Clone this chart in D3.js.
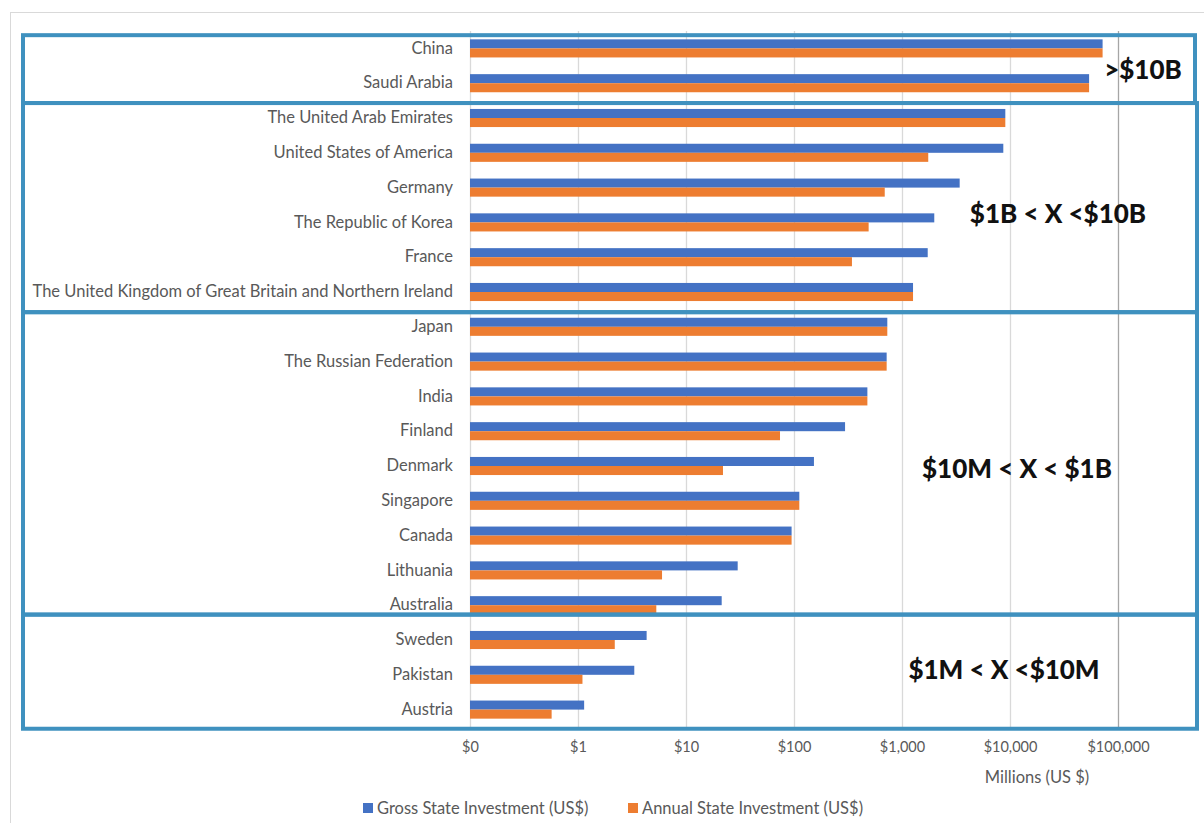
<!DOCTYPE html>
<html>
<head>
<meta charset="utf-8">
<script src="https://cdn.jsdelivr.net/npm/d3@7"></script>
<style>
  body { margin: 0; background: #fff; }
  svg { display: block; }
</style>
</head>
<body>
<div id="chart"></div>
<script>
// data
const countries = ["China", "Saudi Arabia", "The United Arab Emirates", "United States of America",
    "Germany", "The Republic of Korea", "France",
    "The United Kingdom of Great Britain and Northern Ireland", "Japan", "The Russian Federation",
    "India", "Finland", "Denmark", "Singapore", "Canada", "Lithuania", "Australia",
    "Sweden", "Pakistan", "Austria"];
const gross = [72000, 54000, 9050, 8670, 3420, 1990, 1730, 1265, 731, 721,
    478, 297, 153, 112, 95, 30.1, 21.4, 4.32, 3.32, 1.14];
const annual = [72000, 54000, 9050, 1750, 692, 491, 344, 1265, 731, 721,
    478, 74.2, 22.0, 112, 95, 6.0, 5.31, 2.19, 1.10, 0.57];
const seriesNames = ["Gross State Investment (US$)", "Annual State Investment (US$)"];
const tickValues = [0.1, 1, 10, 100, 1000, 10000, 100000];
const tickLabels = ["$0", "$1", "$10", "$100", "$1,000", "$10,000", "$100,000"];
// annotation groups (edges in row units)
const groupLabels = [">$10B", "$1B < X <$10B", "$10M < X < $1B", "$1M < X <$10M"];
const groupEdges = [0.12, 2.07, 8.08, 16.77, 20.05];

const W = 1204, H = 823;
const colors = ["#4472C4", "#ED7D31"];
const textColor = "#595959";
const font = "Lato, 'Open Sans', sans-serif";

const svg = d3.select("#chart").append("svg")
    .attr("width", W)
    .attr("height", H);

// outer chart border
svg.append("rect")
    .attr("x", 10.5).attr("y", 12.5)
    .attr("width", W + 20).attr("height", H + 20)
    .attr("fill", "none")
    .attr("stroke", "#d9d9d9");

// scales
const x = d3.scaleLog()
    .domain([0.1, 1000000])
    .range([470, 1226]);

const y = d3.scaleBand()
    .domain(countries)
    .range([31, 727])
    .paddingInner(0.48)
    .paddingOuter(0.24);

const ySub = d3.scaleBand()
    .domain([0, 1])
    .range([0, y.bandwidth()]);

// gridlines
svg.append("g")
    .attr("transform", "translate(0,727)")
    .call(d3.axisBottom(x).tickValues(tickValues).tickSize(-(727 - 31)).tickFormat(""))
    .call(g => g.select(".domain").remove())
    .selectAll(".tick line")
    .attr("stroke", (d) => d === 100000 ? "#a6a6a6" : "#d9d9d9")
    .attr("stroke-width", 1.3);

// tick labels
svg.append("g")
    .attr("transform", "translate(0,728)")
    .call(d3.axisBottom(x).tickValues(tickValues).tickSize(0).tickPadding(14)
        .tickFormat((d, i) => tickLabels[i]))
    .call(g => g.select(".domain").remove())
    .selectAll("text")
    .attr("fill", textColor)
    .style("font-family", font)
    .style("font-size", "14.5px");

// bars
const rows = svg.append("g")
    .selectAll("g")
    .data(countries)
    .enter().append("g")
    .attr("transform", d => "translate(0," + y(d) + ")");

rows.selectAll("rect")
    .data((d, i) => [gross[i], annual[i]])
    .enter().append("rect")
    .attr("x", x(0.1))
    .attr("y", (d, j) => ySub(j))
    .attr("width", d => x(d) - x(0.1))
    .attr("height", ySub.bandwidth())
    .attr("fill", (d, j) => colors[j]);

// category labels
svg.append("g")
    .attr("transform", "translate(470,0)")
    .call(d3.axisLeft(y).tickSize(0).tickPadding(17))
    .call(g => g.select(".domain").remove())
    .selectAll("text")
    .attr("fill", textColor)
    .style("font-family", font)
    .style("font-size", "16.5px");

// annotation boxes
const step = y.step();
const y0 = 31;
const boxes = svg.append("g");
groupLabels.forEach((label, i) => {
    const top = y0 + groupEdges[i] * step;
    const bottom = y0 + groupEdges[i + 1] * step;
    boxes.append("rect")
        .attr("x", 23)
        .attr("y", top)
        .attr("width", i === 0 ? 1172 : 1174)
        .attr("height", bottom - top)
        .attr("fill", "none")
        .attr("stroke", "#3f91bf")
        .attr("stroke-width", 4);
});

const labelPos = [[1143, 70], [1058, 214], [1017, 469], [1004, 670]];
groupLabels.forEach((label, i) => {
    svg.append("text")
        .attr("x", labelPos[i][0])
        .attr("y", labelPos[i][1])
        .attr("dy", "0.35em")
        .attr("text-anchor", "middle")
        .text(label)
        .style("font-family", font)
        .style("font-weight", "900")
        .style("font-size", "26px")
        .style("fill", "#111");
});

// axis title
svg.append("text")
    .attr("x", 1037)
    .attr("y", 777)
    .attr("dy", "0.35em")
    .attr("text-anchor", "middle")
    .text("Millions (US $)")
    .style("font-family", font)
    .style("font-size", "16.5px")
    .style("fill", textColor);

// legend
const legend = svg.append("g")
    .selectAll("g")
    .data(seriesNames)
    .enter().append("g")
    .attr("transform", (d, i) => "translate(" + (i === 0 ? 363 : 628) + ",808)");

legend.append("rect")
    .attr("x", 0).attr("y", -5)
    .attr("width", 10).attr("height", 10)
    .attr("fill", (d, i) => colors[i]);

legend.append("text")
    .attr("x", 14)
    .attr("dy", "0.35em")
    .text(d => d)
    .style("font-family", font)
    .style("font-size", "16.5px")
    .style("fill", textColor);
</script>
</body>
</html>
